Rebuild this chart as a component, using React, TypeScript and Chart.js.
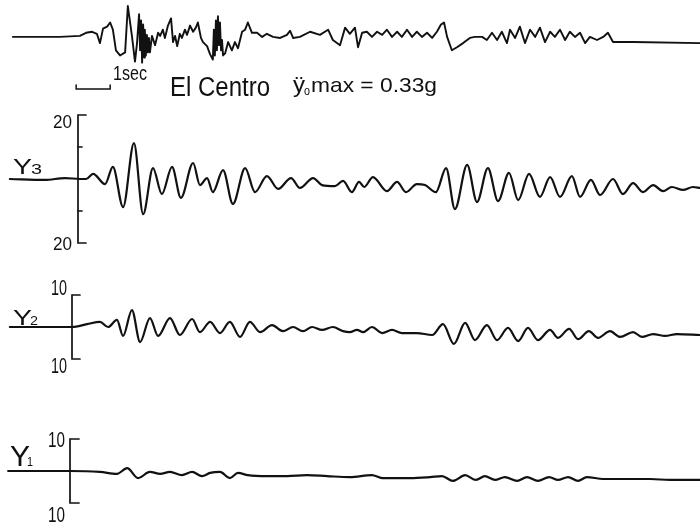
import React, { useEffect, useRef } from "react";
import { Chart, registerables } from "chart.js";

Chart.register(...registerables);

// ---------- data (time in seconds) ----------
// ground acceleration record, El Centro (g)
const ACC_T = [0.38,1.76,2.35,2.53,2.71,2.85,2.94,3.03,3.15,3.24,3.32,3.41,3.53,3.68,3.76,3.88,3.97,4.03,
  4.09,4.12,4.15,4.18,4.21,4.24,4.26,4.29,4.32,4.35,4.38,4.41,4.47,
  4.56,4.65,4.71,4.79,4.85,4.94,5.03,5.09,5.15,5.21,5.29,5.35,5.44,5.50,5.59,5.68,5.76,5.82,5.91,5.97,6.09,6.18,
  6.26,6.29,6.32,6.35,6.38,6.41,6.44,6.47,6.50,6.53,6.56,6.62,
  6.71,6.82,6.91,7.00,7.12,7.21,7.29,7.41,7.56,7.71,7.85,8.03,8.24,8.44,8.53,8.62,8.82,9.12,9.41,9.65,9.79,10.00,10.15,10.29,10.44,10.53,10.65,10.79,10.94,11.09,11.24,11.38,11.53,11.68,11.82,11.97,12.12,12.26,12.41,12.56,12.71,12.85,12.97,13.06,13.15,13.29,13.44,13.62,13.82,13.97,14.18,14.32,14.47,14.62,14.76,14.91,15.00,15.15,15.29,15.44,15.59,15.74,15.88,16.03,16.18,16.32,16.47,16.62,16.76,16.91,17.06,17.21,17.35,17.56,17.74,17.88,18.03,18.62,20.59];
const ACC_G = [0.03,0.03,0.04,0.07,0.08,0.06,-0.03,0.11,0.13,0.17,0.10,-0.10,-0.15,-0.12,0.33,0.04,-0.21,-0.03,
  0.25,-0.10,0.19,-0.22,0.15,-0.17,0.10,-0.15,0.05,-0.12,0.02,-0.12,0.04,
  -0.05,0.07,0.04,0.10,0.02,0.14,0.21,-0.02,0.04,-0.06,0.06,0.02,0.10,0.05,0.14,0.08,0.12,0.17,0.02,-0.02,-0.06,-0.14,
  -0.19,0.10,-0.15,0.19,-0.10,0.23,-0.05,0.17,-0.10,0.00,-0.15,-0.13,
  -0.02,-0.10,-0.02,-0.08,0.08,0.10,0.17,0.07,0.07,0.03,0.06,0.03,0.02,0.05,0.09,0.02,0.03,0.08,0.05,0.10,0.00,-0.05,0.12,0.06,0.12,-0.07,0.07,0.08,0.03,0.08,0.05,0.10,0.03,0.08,0.03,0.10,0.03,0.08,0.03,0.07,0.02,0.08,0.15,0.17,0.03,-0.10,-0.07,-0.03,0.02,0.03,0.03,0.00,0.07,0.00,0.08,-0.03,0.10,0.02,0.13,-0.03,0.10,0.03,0.12,-0.02,0.08,0.03,0.10,0.00,0.08,0.03,0.07,-0.03,0.03,0.00,0.03,0.07,-0.02,-0.02,-0.03];

// response Y3
const Y3_T = [0.29,1.32,1.91,2.35,2.53,2.74,3.09,3.32,3.62,3.94,4.21,4.50,4.76,5.06,5.32,5.68,5.88,6.09,6.26,6.56,6.85,7.21,7.50,7.85,8.18,8.56,8.82,9.21,9.47,9.85,10.09,10.35,10.56,10.71,10.97,11.38,11.68,11.94,12.26,12.50,12.82,13.12,13.38,13.74,14.03,14.35,14.65,14.97,15.24,15.56,15.88,16.18,16.47,16.82,17.06,17.38,17.65,18.03,18.32,18.62,18.91,19.21,19.50,19.76,20.09,20.38,20.59];
const Y3_V = [0,-0.3,0.3,0,0,1.6,-1.6,3.8,-8.8,11.2,-11.0,3.4,-4.7,3.8,-5.9,5.0,-1.9,0.3,-4.1,2.8,-7.8,3.4,-4.1,0.9,-3.1,0.3,-2.8,0.3,-1.9,-2.2,-0.6,-4.1,-0.9,-2.5,0.6,-3.8,-0.9,-4.1,-1.6,-1.9,-4.1,3.4,-9.4,4.4,-7.2,3.4,-6.9,1.9,-6.6,1.6,-5.6,0.6,-5.6,0.9,-5.6,-0.3,-5.0,0,-4.7,-1.3,-4.1,-1.9,-3.8,-2.5,-3.4,-2.5,-2.8];

// response Y2
const Y2_T = [0.29,2.12,2.56,2.94,3.18,3.44,3.62,3.88,4.12,4.41,4.65,5.00,5.29,5.65,5.88,6.18,6.47,6.76,7.06,7.35,7.65,8.00,8.32,8.62,8.91,9.18,9.47,9.79,10.09,10.29,10.50,10.68,10.94,11.24,11.53,11.82,12.26,12.71,13.03,13.35,13.68,13.97,14.32,14.62,14.94,15.24,15.53,15.82,16.18,16.41,16.74,17.00,17.32,17.59,17.94,18.24,18.62,18.88,19.21,19.56,19.91,20.59];
const Y2_V = [0,0,0.9,1.6,0,2.2,-2.8,5.3,-4.7,2.8,-2.8,2.8,-2.5,2.5,-1.6,1.6,-1.9,1.6,-3.1,1.6,-1.6,0.6,-1.3,0,-1.3,0,-0.9,0,-1.3,-1.6,-0.9,-1.6,0,-1.9,-0.9,-1.9,-1.9,-2.5,0.9,-5.3,1.3,-4.1,0.6,-4.1,-0.3,-4.4,-0.3,-4.1,-0.9,-3.4,-0.6,-3.8,-1.3,-3.4,-1.3,-3.1,-1.6,-3.1,-2.2,-2.8,-2.2,-2.5];

// response Y1
const Y1_T = [0.24,2.06,2.94,3.44,3.74,4.06,4.41,4.71,5.00,5.35,5.65,5.94,6.18,6.47,6.76,7.00,7.29,7.85,8.44,9.03,9.62,10.29,10.94,11.24,12.06,12.65,13.00,13.32,13.68,14.00,14.26,14.56,14.85,15.21,15.50,15.82,16.15,16.41,16.71,17.00,17.26,17.74,18.44,19.12,19.71,20.59];
const Y1_V = [0,0,-0.3,-0.9,0.9,-2.2,-0.3,-0.9,-0.3,-1.3,-0.3,-1.6,-0.6,-0.3,-2.2,-0.6,-1.3,-1.6,-1.6,-1.3,-1.6,-1.9,-1.3,-2.2,-2.2,-1.9,-1.6,-3.1,-1.3,-2.8,-1.6,-2.8,-1.9,-3.1,-1.9,-3.1,-1.9,-2.8,-1.9,-3.1,-1.9,-2.5,-2.5,-2.5,-2.8,-2.8];

// labels / ranges
const RESPONSE_NAMES = ["Y", "Y", "Y"];
const RESPONSE_SUBS = ["3", "2", "1"];
const RESPONSE_LIMITS = [20, 10, 10];
const TITLE = "El Centro";
const PEAK_SYMBOL = "ÿ";
const PEAK_SUB = "o";
const PEAK_TEXT = "max = 0.33g";
const SCALE_BAR_TEXT = "1sec";
const SCALE_BAR_SECONDS = 1;

// ---------- layout ----------
const W = 700;
const H = 525;
const FONT = '"Liberation Sans", "DejaVu Sans", Arial, sans-serif';
const INK = "#111";

const zip = (t: number[], v: number[]) => t.map((x, i) => ({ x, y: v[i] }));
const yRange = (basePx: number, pxPerUnit: number) => ({
  min: -(H - basePx) / pxPerUnit,
  max: basePx / pxPerUnit,
});

function fitText(
  ctx: CanvasRenderingContext2D,
  text: string,
  x: number,
  y: number,
  size: number,
  width: number,
  align: "left" | "right" = "left"
) {
  ctx.font = `${size}px ${FONT}`;
  const w = ctx.measureText(text).width;
  const sx = width / w;
  ctx.save();
  ctx.translate(x, y);
  ctx.scale(sx, 1);
  ctx.textAlign = "left";
  ctx.textBaseline = "alphabetic";
  ctx.fillText(text, align === "right" ? -w : 0, 0);
  ctx.restore();
}

const decorPlugin = {
  id: "decor",
  afterDatasetsDraw(chart: any) {
    const ctx: CanvasRenderingContext2D = chart.ctx;
    const xs = chart.scales.x;
    ctx.save();
    ctx.strokeStyle = INK;
    ctx.fillStyle = INK;
    ctx.lineWidth = 1.7;
    ctx.lineCap = "round";

    // brackets (axis marks) for each response trace
    const brackets = [
      { axis: "y3", px: 78, hook: 8, mid: true, label: { right: 72, topDy: 13, botDy: 7, size: 18, w: 19 }, name: { x: 13, base: 174, size: 22, w: 19, subX: 31, subBase: 174, subSize: 14, subW: 11 } },
      { axis: "y2", px: 72, hook: 8, mid: false, label: { right: 67, topDy: 0, botDy: 14, size: 22, w: 16 }, name: { x: 13, base: 325, size: 22, w: 19, subX: 30, subBase: 325, subSize: 13, subW: 8 } },
      { axis: "y1", px: 70, hook: 9, mid: false, label: { right: 65, topDy: 8, botDy: 19, size: 22, w: 17 }, name: { x: 10, base: 466, size: 29, w: 20, subX: 27, subBase: 466, subSize: 13, subW: 6 } },
    ];
    brackets.forEach((b, i) => {
      const s = chart.scales[b.axis];
      const lim = RESPONSE_LIMITS[i];
      const top = s.getPixelForValue(lim);
      const bot = s.getPixelForValue(-lim);
      ctx.beginPath();
      ctx.moveTo(b.px + b.hook, top);
      ctx.lineTo(b.px, top);
      ctx.lineTo(b.px, bot);
      ctx.lineTo(b.px + b.hook, bot);
      ctx.stroke();
      if (b.mid) {
        [lim / 2, -lim / 2].forEach((v) => {
          const p = s.getPixelForValue(v);
          ctx.beginPath();
          ctx.moveTo(b.px, p);
          ctx.lineTo(b.px + 4, p);
          ctx.stroke();
        });
      }
      fitText(ctx, String(lim), b.label.right, top + b.label.topDy, b.label.size, b.label.w, "right");
      fitText(ctx, String(lim), b.label.right, bot + b.label.botDy, b.label.size, b.label.w, "right");
      fitText(ctx, RESPONSE_NAMES[i], b.name.x, b.name.base, b.name.size, b.name.w);
      fitText(ctx, RESPONSE_SUBS[i], b.name.subX, b.name.subBase, b.name.subSize, b.name.subW);
    });

    // one-second scale bar
    const t0 = 2.24;
    const xa = xs.getPixelForValue(t0);
    const xb = xs.getPixelForValue(t0 + SCALE_BAR_SECONDS);
    ctx.lineWidth = 1.5;
    ctx.beginPath();
    ctx.moveTo(xa, 85);
    ctx.lineTo(xa, 89);
    ctx.lineTo(xb, 89);
    ctx.lineTo(xb, 85);
    ctx.stroke();
    fitText(ctx, SCALE_BAR_TEXT, 113, 80, 20, 34);

    // title and peak acceleration
    fitText(ctx, TITLE, 170, 96, 27, 100);
    fitText(ctx, PEAK_SYMBOL, 293, 92, 22, 12);
    fitText(ctx, PEAK_SUB, 304, 95, 12, 6);
    fitText(ctx, PEAK_TEXT, 311, 92, 21, 126);
    ctx.restore();
  },
};

export default function App() {
  const ref = useRef<HTMLCanvasElement | null>(null);

  useEffect(() => {
    if (!ref.current) return;
    const line = (data: any, axis: string, width: number, smooth: boolean) => ({
      data,
      yAxisID: axis,
      borderColor: INK,
      borderWidth: width,
      pointRadius: 0,
      fill: false,
      tension: 0,
      cubicInterpolationMode: smooth ? "monotone" : "default",
      borderJoinStyle: "round",
      borderCapStyle: "round",
    });
    const chart = new Chart(ref.current, {
      type: "line",
      data: {
        datasets: [
          line(zip(ACC_T, ACC_G), "yAcc", 1.9, false),
          line(zip(Y3_T, Y3_V), "y3", 2.2, true),
          line(zip(Y2_T, Y2_V), "y2", 2.2, true),
          line(zip(Y1_T, Y1_V), "y1", 2.2, true),
        ] as any,
      },
      options: {
        responsive: false,
        animation: false,
        events: [],
        layout: { padding: 0 },
        plugins: { legend: { display: false }, tooltip: { enabled: false } },
        scales: {
          x: { type: "linear", display: false, min: 0, max: W / 34 },
          yAcc: { type: "linear", display: false, ...yRange(40, 103) },
          y3: { type: "linear", display: false, ...yRange(179, 3.2) },
          y2: { type: "linear", display: false, ...yRange(327, 3.2) },
          y1: { type: "linear", display: false, ...yRange(471, 3.2) },
        },
      } as any,
      plugins: [decorPlugin],
    });
    return () => chart.destroy();
  }, []);

  return (
    <div style={{ position: "fixed", left: 0, top: 0, width: W, height: H, background: "#fff" }}>
      <canvas ref={ref} width={W} height={H} style={{ display: "block", width: W, height: H }} />
    </div>
  );
}
